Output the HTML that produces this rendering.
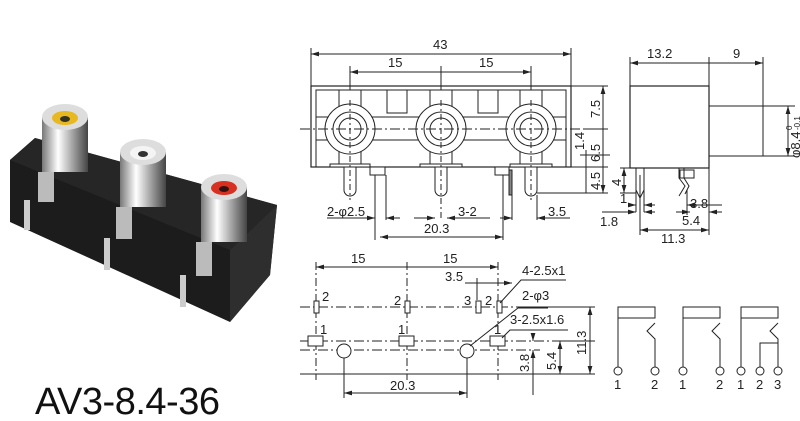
<!DOCTYPE html>
<html><head><meta charset="utf-8"><style>html,body{margin:0;padding:0;background:#fff}svg{display:block}</style></head><body>
<svg width="800" height="421" viewBox="0 0 800 421" xmlns="http://www.w3.org/2000/svg" font-family="Liberation Sans, sans-serif" fill="none" stroke="#222" stroke-width="1">
<defs>
<marker id="a" viewBox="0 0 10 6" refX="10" refY="3" markerWidth="8" markerHeight="5" orient="auto-start-reverse"><path d="M0,0L10,3L0,6z" fill="#222" stroke="none"/></marker>
<linearGradient id="m" x1="0" x2="1"><stop offset="0" stop-color="#777"/><stop offset=".35" stop-color="#fff"/><stop offset=".7" stop-color="#999"/><stop offset="1" stop-color="#444"/></linearGradient>
</defs>
<!-- photo -->
<g stroke="none">
<polygon points="10,160 35,138 277,205 270,275 230,322 10,222" fill="#1c1c1c"/>
<polygon points="230,250 277,205 270,275 230,322" fill="#2e2e2e"/>
<polygon points="10,160 35,138 277,205 230,250" fill="#262626"/>
<g><rect x="42" y="117" width="46" height="55" fill="url(#m)"/><ellipse cx="65" cy="117" rx="23" ry="13" fill="#ddd"/><ellipse cx="65" cy="118" rx="13" ry="7" fill="#e8b820"/><ellipse cx="65" cy="119" rx="5" ry="3" fill="#332"/><rect x="38" y="172" width="16" height="30" fill="#bbb"/><rect x="24" y="200" width="6" height="30" fill="#ccc"/></g>
<g><rect x="120" y="152" width="46" height="55" fill="url(#m)"/><ellipse cx="143" cy="152" rx="23" ry="13" fill="#ddd"/><ellipse cx="143" cy="153" rx="13" ry="7" fill="#f4f4f4"/><ellipse cx="143" cy="154" rx="5" ry="3" fill="#333"/><rect x="116" y="207" width="16" height="32" fill="#bbb"/><rect x="104" y="238" width="6" height="32" fill="#ccc"/></g>
<g><rect x="201" y="187" width="46" height="55" fill="url(#m)"/><ellipse cx="224" cy="187" rx="23" ry="13" fill="#ddd"/><ellipse cx="224" cy="188" rx="13" ry="7" fill="#d83020"/><ellipse cx="224" cy="189" rx="5" ry="3" fill="#311"/><rect x="196" y="242" width="16" height="34" fill="#bbb"/><rect x="180" y="275" width="6" height="32" fill="#ccc"/></g>
</g>
<text x="35" y="414" font-size="38" fill="#111" stroke="none" textLength="185">AV3-8.4-36</text>

<!-- front view -->
<g>
<line x1="311" y1="54" x2="571" y2="54" marker-start="url(#a)" marker-end="url(#a)"/>
<line x1="311" y1="48" x2="311" y2="86"/><line x1="571" y1="48" x2="571" y2="86"/>
<line x1="350" y1="72" x2="531" y2="72" marker-start="url(#a)" marker-end="url(#a)"/>
<line x1="350" y1="66" x2="350" y2="105"/><line x1="441" y1="66" x2="441" y2="105"/><line x1="531" y1="66" x2="531" y2="105"/>
<rect x="311" y="86" width="260" height="81" stroke-width="1.2"/>
<rect x="316" y="90" width="250" height="77"/>
<line x1="316" y1="117" x2="566" y2="117"/><line x1="316" y1="140" x2="566" y2="140"/>
<rect x="387" y="90" width="20" height="23"/><rect x="478" y="90" width="20" height="23"/>
<g fill="#fff">
<rect x="339" y="90" width="22" height="20"/><rect x="430" y="90" width="22" height="20"/><rect x="520" y="90" width="22" height="20"/>
<rect x="339" y="145" width="22" height="22"/><rect x="430" y="145" width="22" height="22"/><rect x="520" y="145" width="22" height="22"/>
<circle cx="350" cy="129" r="25"/><circle cx="350" cy="129" r="17"/><circle cx="350" cy="129" r="11"/>
<circle cx="441" cy="129" r="25"/><circle cx="441" cy="129" r="17"/><circle cx="441" cy="129" r="11"/>
<circle cx="531" cy="129" r="25"/><circle cx="531" cy="129" r="17"/><circle cx="531" cy="129" r="11"/>
<path d="M344,167V190a6,6 0 0 0 12,0V167"/><path d="M435,167V190a6,6 0 0 0 12,0V167"/><path d="M525,167V190a6,6 0 0 0 12,0V167"/>
<rect x="370" y="167" width="15" height="8"/><rect x="495" y="167" width="14" height="8"/>
<rect x="330" y="164" width="40" height="3"/><rect x="420" y="164" width="42" height="3"/><rect x="510" y="164" width="42" height="3"/>
<rect x="509" y="170" width="3" height="25" fill="#888"/>
</g>
<line x1="300" y1="129" x2="583" y2="129" stroke-dasharray="10,3,2,3"/>
<line x1="350" y1="100" x2="350" y2="200" stroke-dasharray="6,3,2,3"/><line x1="441" y1="100" x2="441" y2="220" stroke-dasharray="6,3,2,3"/><line x1="531" y1="100" x2="531" y2="200" stroke-dasharray="6,3,2,3"/>
<line x1="571" y1="86" x2="608" y2="86"/><line x1="571" y1="167" x2="608" y2="167"/><line x1="537" y1="193" x2="608" y2="193"/><line x1="583" y1="129" x2="608" y2="129"/>
<line x1="603" y1="86" x2="603" y2="193" marker-start="url(#a)" marker-end="url(#a)"/>
<line x1="586" y1="150" x2="586" y2="193"/><line x1="580" y1="155" x2="610" y2="155"/>
<line x1="375" y1="175" x2="375" y2="240"/><line x1="386" y1="175" x2="386" y2="220"/><line x1="503" y1="175" x2="503" y2="240"/><line x1="512" y1="195" x2="512" y2="220"/><line x1="537" y1="195" x2="537" y2="220"/>
<line x1="327" y1="218" x2="375" y2="218" marker-end="url(#a)"/><line x1="386" y1="218" x2="400" y2="218" marker-start="url(#a)"/>
<line x1="414" y1="218" x2="435" y2="218" marker-end="url(#a)"/><line x1="447" y1="218" x2="490" y2="218" marker-start="url(#a)"/>
<line x1="500" y1="218" x2="512" y2="218" marker-end="url(#a)"/><line x1="537" y1="218" x2="570" y2="218" marker-start="url(#a)"/>
<line x1="380" y1="237" x2="503" y2="237" marker-start="url(#a)" marker-end="url(#a)"/>
</g>
<g fill="#222" stroke="none" font-size="13">
<text x="433" y="49">43</text><text x="388" y="67">15</text><text x="479" y="67">15</text>
<text x="327" y="216">2-φ2.5</text><text x="458" y="216">3-2</text><text x="548" y="216">3.5</text><text x="424" y="233">20.3</text>
<text transform="translate(600,118) rotate(-90)">7.5</text><text transform="translate(600,162) rotate(-90)">6.5</text><text transform="translate(584,150) rotate(-90)">1.4</text><text transform="translate(600,190) rotate(-90)">4.5</text>
</g>

<!-- side view -->
<g>
<line x1="630" y1="63" x2="763" y2="63" marker-start="url(#a)" marker-end="url(#a)"/>
<line x1="630" y1="57" x2="630" y2="86"/><line x1="709" y1="57" x2="709" y2="106"/><line x1="763" y1="57" x2="763" y2="106"/>
<rect x="630" y="86" width="79" height="82" stroke-width="1.2"/>
<rect x="709" y="106" width="54" height="50"/>
<line x1="763" y1="106" x2="795" y2="106"/><line x1="763" y1="156" x2="795" y2="156"/>
<line x1="788" y1="106" x2="788" y2="156" marker-start="url(#a)" marker-end="url(#a)"/>
<path d="M636,168V190l4,8l4,-8V168"/><line x1="640" y1="175" x2="640" y2="212"/><line x1="636" y1="190" x2="636" y2="212"/><line x1="644" y1="190" x2="644" y2="212"/>
<rect x="680" y="170" width="14" height="8"/><path d="M679,168V178l6,8l-6,10"/><path d="M684,168V178l5,8l-4,8"/>
<line x1="620" y1="168" x2="636" y2="168"/><line x1="620" y1="193" x2="636" y2="193"/><line x1="624" y1="168" x2="624" y2="193" marker-start="url(#a)" marker-end="url(#a)"/>
<line x1="632" y1="205" x2="636" y2="205" marker-end="url(#a)"/><line x1="644" y1="205" x2="655" y2="205" marker-start="url(#a)"/>
<line x1="602" y1="212" x2="636" y2="212" marker-end="url(#a)"/><line x1="644" y1="212" x2="655" y2="212" marker-start="url(#a)"/>
<line x1="687" y1="205" x2="722" y2="205" marker-start="url(#a)"/><line x1="676" y1="212" x2="690" y2="212" marker-end="url(#a)"/><line x1="709" y1="212" x2="722" y2="212" marker-start="url(#a)"/>
<line x1="640" y1="230" x2="709" y2="230" marker-start="url(#a)" marker-end="url(#a)"/>
<line x1="709" y1="168" x2="709" y2="235"/><line x1="640" y1="212" x2="640" y2="235"/><line x1="687" y1="190" x2="687" y2="215"/>
</g>
<g fill="#222" stroke="none" font-size="13">
<text x="647" y="58">13.2</text><text x="733" y="58">9</text>
<text transform="translate(800,158) rotate(-90)">φ8.4</text><text transform="translate(792,130) rotate(-90)" font-size="8">0</text><text transform="translate(800,130) rotate(-90)" font-size="8">-0.1</text>
<text transform="translate(621,186) rotate(-90)">4</text><text x="620" y="203">1</text><text x="600" y="226">1.8</text>
<text x="690" y="208">3.8</text><text x="682" y="225">5.4</text><text x="661" y="243">11.3</text>
</g>

<!-- footprint -->
<g>
<line x1="316" y1="267" x2="498" y2="267" marker-start="url(#a)" marker-end="url(#a)"/>
<line x1="316" y1="262" x2="316" y2="380" stroke-dasharray="8,3,2,3"/><line x1="407" y1="262" x2="407" y2="380" stroke-dasharray="8,3,2,3"/><line x1="498" y1="262" x2="498" y2="380" stroke-dasharray="8,3,2,3"/>
<line x1="465" y1="283" x2="512" y2="283" marker-end="url(#a)"/><line x1="477" y1="278" x2="477" y2="300"/>
<line x1="300" y1="307" x2="530" y2="307" stroke-dasharray="10,3,2,3"/>
<line x1="300" y1="341" x2="560" y2="341" stroke-dasharray="10,3,2,3"/>
<line x1="300" y1="350" x2="540" y2="350" stroke-dasharray="10,3,2,3"/>
<line x1="300" y1="374" x2="595" y2="374"/>
<line x1="520" y1="307" x2="595" y2="307"/><line x1="560" y1="341" x2="595" y2="341"/>
<line x1="344" y1="350" x2="344" y2="398"/><line x1="467" y1="350" x2="467" y2="398"/>
<line x1="344" y1="393" x2="467" y2="393" marker-start="url(#a)" marker-end="url(#a)"/>
<line x1="590" y1="307" x2="590" y2="374" marker-start="url(#a)" marker-end="url(#a)"/>
<line x1="560" y1="341" x2="560" y2="374" marker-start="url(#a)" marker-end="url(#a)"/>
<line x1="533" y1="335" x2="533" y2="341" marker-end="url(#a)"/><line x1="533" y1="350" x2="533" y2="395" marker-start="url(#a)"/>
<g fill="#fff">
<rect x="314" y="301" width="5" height="12"/><rect x="405" y="301" width="5" height="12"/><rect x="476" y="301" width="5" height="12"/><rect x="497" y="301" width="5" height="12"/>
<rect x="308" y="336" width="15" height="10"/><rect x="399" y="336" width="15" height="10"/><rect x="490" y="336" width="15" height="10"/>
<circle cx="344" cy="351" r="7"/><circle cx="467" cy="351" r="7"/>
</g>
<path d="M500,303L521,280H566"/><path d="M470,346L518,308H548"/><path d="M502,338L510,330H568"/>
</g>
<g fill="#222" stroke="none" font-size="13">
<text x="351" y="263">15</text><text x="443" y="263">15</text><text x="445" y="281">3.5</text>
<text x="322" y="301">2</text><text x="394" y="305">2</text><text x="464" y="305">3</text><text x="485" y="305">2</text>
<text x="320" y="334">1</text><text x="398" y="334">1</text><text x="494" y="334">1</text>
<text x="522" y="275">4-2.5x1</text><text x="522" y="300">2-φ3</text><text x="510" y="324">3-2.5x1.6</text>
<text x="390" y="390">20.3</text>
<text transform="translate(586,355) rotate(-90)">11.3</text><text transform="translate(556,370) rotate(-90)">5.4</text><text transform="translate(529,372) rotate(-90)">3.8</text>
</g>

<!-- schematics -->
<g>
<rect x="618" y="307" width="37" height="11"/><line x1="618" y1="318" x2="618" y2="367"/><path d="M655,323l-8,8l8,8V367"/><circle cx="618" cy="371" r="4"/><circle cx="655" cy="371" r="4"/>
<rect x="683" y="307" width="37" height="11"/><line x1="683" y1="318" x2="683" y2="367"/><path d="M720,323l-8,8l8,8V367"/><circle cx="683" cy="371" r="4"/><circle cx="720" cy="371" r="4"/>
<rect x="741" y="307" width="37" height="11"/><line x1="741" y1="318" x2="741" y2="367"/><path d="M778,323l-8,8l8,8V367"/><path d="M778,343H760V367"/><circle cx="741" cy="371" r="4"/><circle cx="760" cy="371" r="4"/><circle cx="778" cy="371" r="4"/>
</g>
<g fill="#222" stroke="none" font-size="13">
<text x="614" y="389">1</text><text x="651" y="389">2</text><text x="679" y="389">1</text><text x="716" y="389">2</text><text x="737" y="389">1</text><text x="756" y="389">2</text><text x="774" y="389">3</text>
</g>
</svg>
</body></html>
